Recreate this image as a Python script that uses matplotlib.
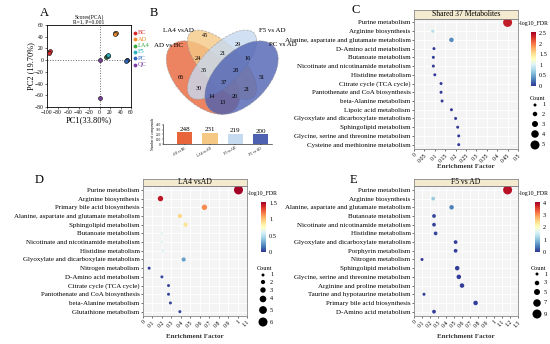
import numpy as np
import matplotlib.pyplot as plt
from matplotlib.patches import Ellipse
from matplotlib.colors import Normalize
from matplotlib.cm import ScalarMappable

plt.rcParams['font.family'] = ['Liberation Serif', 'DejaVu Serif']

W, H = 550, 344

# ---------------- data ----------------
# A: PCA scores
pca_groups = ['BC', 'AD', 'LA4', 'F5', 'PC', 'QC']
pca_colors = ['#d62a2a', '#f08c2a', '#3aa845', '#2ab4c0', '#2f66c0', '#7a3fa0']
pca_pc1 = {'BC': [-97, -95, -96], 'AD': [29, 31, 30], 'LA4': [13, 15],
           'F5': [16, 17], 'PC': [52, 53, 51], 'QC': [0, 0]}
pca_pc2 = {'BC': [14, 16, 13], 'AD': [46, 47, 45], 'LA4': [5, 7],
           'F5': [7, 8], 'PC': [0, 1, -1], 'QC': [0, -65]}

# B: Venn region counts
venn_regions = ['A', 'B', 'C', 'D', 'AB', 'BC', 'CD', 'ABC', 'BCD', 'ABCD',
                'AC', 'BD', 'ACD', 'ABD', 'AD']
venn_counts = [66, 45, 29, 51, 24, 21, 16, 35, 28, 37, 30, 21, 14, 20, 13]
set_names = ['AD vs BC', 'LA4 vs AD', 'F5 vs AD', 'PC vs AD']
set_totals = [248, 231, 219, 200]
set_colors = ['#e8643a', '#f6c886', '#c6daf0', '#4f62b2']

# C: shared 37 metabolites
c_paths = ['Purine metabolism', 'Arginine biosynthesis',
           'Alanine, aspartate and glutamate metabolism', 'D-Amino acid metabolism',
           'Butanoate metabolism', 'Nicotinate and nicotinamide metabolism',
           'Histidine metabolism', 'Citrate cycle (TCA cycle)',
           'Pantothenate and CoA biosynthesis', 'beta-Alanine metabolism',
           'Lipoic acid metabolism', 'Glyoxylate and dicarboxylate metabolism',
           'Sphingolipid metabolism', 'Glycine, serine and threonine metabolism',
           'Cysteine and methionine metabolism']
c_ef = [0.45, 0.09, 0.18, 0.096, 0.093, 0.093, 0.10, 0.13, 0.13, 0.135,
        0.18, 0.20, 0.21, 0.215, 0.215]
c_fdr = [2.4, 0.8, 0.35, 0.02, 0.02, 0.02, 0.02, 0.02, 0.02, 0.02,
         0.02, 0.02, 0.02, 0.02, 0.02]
c_count = [5, 1, 2, 1, 1, 1, 1, 1, 1, 1, 1, 1, 1, 1, 1]

# D: LA4 vs AD
d_paths = ['Purine metabolism', 'Arginine biosynthesis', 'Primary bile acid biosynthesis',
           'Alanine, aspartate and glutamate metabolism', 'Sphingolipid metabolism',
           'Butanoate metabolism', 'Nicotinate and nicotinamide metabolism',
           'Histidine metabolism', 'Glyoxylate and dicarboxylate metabolism',
           'Nitrogen metabolism', 'D-Amino acid metabolism', 'Citrate cycle (TCA cycle)',
           'Pantothenate and CoA biosynthesis', 'beta-Alanine metabolism',
           'Glutathione metabolism']
d_ef = [1.01, 0.185, 0.65, 0.39, 0.45, 0.2, 0.2, 0.21, 0.43, 0.065,
        0.2, 0.27, 0.27, 0.29, 0.39]
d_fdr = [1.55, 1.45, 1.15, 0.95, 0.9, 0.65, 0.65, 0.62, 0.28, 0.02,
         0.04, 0.04, 0.04, 0.04, 0.04]
d_count = [6, 3, 3, 2, 2, 1, 1, 1, 2, 1, 1, 1, 1, 1, 1]

# E: F5 vs AD
e_paths = ['Purine metabolism', 'Arginine biosynthesis',
           'Alanine, aspartate and glutamate metabolism', 'Butanoate metabolism',
           'Nicotinate and nicotinamide metabolism', 'Histidine metabolism',
           'Glyoxylate and dicarboxylate metabolism', 'Porphyrin metabolism',
           'Nitrogen metabolism', 'Sphingolipid metabolism',
           'Glycine, serine and threonine metabolism', 'Arginine and proline metabolism',
           'Taurine and hypotaurine metabolism', 'Primary bile acid biosynthesis',
           'D-Amino acid metabolism']
e_ef = [1.17, 0.24, 0.47, 0.25, 0.25, 0.27, 0.52, 0.52, 0.1, 0.54,
        0.56, 0.6, 0.125, 0.77, 0.25]
e_fdr = [3.9, 1.1, 0.5, 0.1, 0.1, 0.1, 0.05, 0.05, 0.03, 0.05,
         0.05, 0.05, 0.03, 0.05, 0.05]
e_count = [9, 2, 3, 2, 2, 2, 2, 2, 1, 3, 3, 3, 1, 3, 2]

# ---------------- layout helpers ----------------
fig = plt.figure(figsize=(W / 100, H / 100), dpi=100)


def add_ax(x0, y0, x1, y1, **kw):
    return fig.add_axes([x0 / W, 1 - y1 / H, (x1 - x0) / W, (y1 - y0) / H], **kw)


def ftext(x, y, s, **kw):
    fig.text(x / W, 1 - y / H, s, **kw)


for lab, (x, y) in zip('ABCDE', [(40, 13), (150, 13), (352, 10), (35, 180), (350, 180)]):
    ftext(x, y, lab, fontsize=9, va='center')

# ---------------- A: PCA ----------------
axA = add_ax(47, 25, 131, 107)
axA.axhline(0, color='#666', ls=':', lw=0.7)
axA.axvline(0, color='#666', ls=':', lw=0.7)
for g, col in zip(pca_groups, pca_colors):
    axA.scatter(pca_pc1[g], pca_pc2[g], s=8, color=col, edgecolor='#222',
                linewidth=0.5, zorder=3)
axA.set_xlim(-100, 60)
axA.set_ylim(-80, 60)
axA.set_xticks(range(-100, 61, 20))
axA.set_yticks(range(-80, 61, 20))
axA.tick_params(labelsize=4, length=1.5, width=0.4, pad=0.8)
for sp in axA.spines.values():
    sp.set_linewidth(0.6)
axA.set_xlabel('PC1(33.80%)', fontsize=6, labelpad=1)
axA.set_ylabel('PC2 (19.70%)', fontsize=6, labelpad=0)
axA.set_title('Scores(PCA)\nR=1, P=0.001', fontsize=4, pad=1, linespacing=0.9)

overlay = add_ax(0, 0, W, H, zorder=5)
overlay.set_xlim(0, W)
overlay.set_ylim(H, 0)
overlay.axis('off')

for i, (g, col) in enumerate(zip(pca_groups, pca_colors)):
    yy = 33 + i * 6.3
    overlay.scatter([135], [yy], s=3, color=col)
    overlay.text(138, yy, g, color=col, fontsize=4.6, va='center')

# ---------------- B: Venn ----------------
axV = add_ax(150, 20, 295, 118)
axV.set_xlim(150, 295)
axV.set_ylim(118, 20)
axV.axis('off')
ell_geom = [((203, 77.6), 90, 52, 45), ((222, 64.7), 90, 39, 45),
            ((222, 64.7), 90, 39, -45), ((241.5, 77.6), 90, 52, -45)]
for (c, w, h, a), col in zip(ell_geom, set_colors):
    axV.add_patch(Ellipse(c, w, h, angle=a, facecolor=col, alpha=0.8,
                          edgecolor='#999', ls='--', lw=0.5))
venn_pos = {'A': (181, 78), 'B': (205, 36), 'C': (238, 45), 'D': (262, 78),
            'AB': (198, 59), 'BC': (223, 54), 'CD': (248, 59), 'ABC': (204, 71),
            'BCD': (236, 71), 'ABCD': (224, 83), 'AC': (199, 89), 'BD': (247, 90),
            'ACD': (212, 97), 'ABD': (235, 97), 'AD': (223, 103)}
for r, n in zip(venn_regions, venn_counts):
    x, y = venn_pos[r]
    axV.text(x, y, str(n), fontsize=4.5, ha='center', va='center')
for name, (x, y) in zip(['AD vs BC', 'LA4 vsAD', 'F5 vs AD', 'PC vs AD'],
                        [(168, 46), (178, 31), (272, 31), (283, 45)]):
    axV.text(x, y, name, fontsize=5, ha='center', va='center')

axBar = add_ax(163, 124, 272, 144)
xb = np.arange(len(set_totals))
axBar.bar(xb, set_totals, width=0.6, color=set_colors)
for xi, v in zip(xb, set_totals):
    axBar.text(xi, v + 12, str(v), fontsize=5, ha='center', va='bottom')
axBar.set_xlim(-0.85, 3.45)
axBar.set_ylim(0, 420)
axBar.set_yticks([0, 100, 200, 300, 400])
axBar.set_xticks(xb)
axBar.set_xticklabels(set_names, rotation=30, ha='right', rotation_mode='anchor')
axBar.tick_params(labelsize=2.5, length=1, width=0.3, pad=0.5)
axBar.spines[['top', 'right']].set_visible(False)
for sp in axBar.spines.values():
    sp.set_linewidth(0.4)
axBar.set_ylabel('Number of compounds', fontsize=2.5, labelpad=0.5)

# ---------------- C, D, E: enrichment bubble plots ----------------
cmap = plt.get_cmap('RdYlBu_r')


def bubble(box, strip, title, paths, ef, fdr, count, xmax, xstep, vmax, cticks,
           cbar_box, cbar_title_xy, cnt_title_xy, cnt_vals, cnt_y, cnt_x, xlab_xy):
    ax = add_ax(*box)
    n = len(paths)
    ypos = np.arange(n, 0, -1)
    cmax = max(cnt_vals)
    diam = 3 + 6 * (np.array(count) - 1) / (cmax - 1)
    norm = Normalize(0, vmax)
    ax.set_facecolor('#f4f4f4')
    ax.grid(True, color='white', lw=0.6)
    ax.set_axisbelow(True)
    ax.scatter(ef, ypos, s=(diam * 0.72) ** 2, c=fdr, cmap=cmap, norm=norm,
               edgecolor='none', zorder=3)
    ax.set_yticks(ypos)
    ax.set_yticklabels(paths)
    ax.set_ylim(0.5, n + 0.45)
    ticks = np.round(np.arange(0, xmax + 1e-9, xstep), 2)
    ax.set_xticks(ticks)
    ax.set_xticklabels([f'{t:g}' for t in ticks], rotation=45, ha='right',
                       rotation_mode='anchor')
    ax.set_xlim(0, xmax)
    ax.tick_params(axis='y', labelsize=5, length=1.5, width=0.4, pad=1)
    ax.tick_params(axis='x', labelsize=4.2, length=1.5, width=0.4, pad=1)
    for sp in ax.spines.values():
        sp.set_color('#888')
        sp.set_linewidth(0.6)
    ftext(*xlab_xy, 'Enrichment Factor', fontsize=5, fontweight='bold',
          color='#333', ha='center', va='center')

    sax = add_ax(*strip)
    sax.set_facecolor('#f3ead0')
    sax.set_xticks([])
    sax.set_yticks([])
    for sp in sax.spines.values():
        sp.set_color('#888')
        sp.set_linewidth(0.6)
    sax.text(0.5, 0.5, title, fontsize=5.5, ha='center', va='center',
             transform=sax.transAxes)

    cax = add_ax(*cbar_box)
    cb = fig.colorbar(ScalarMappable(norm=norm, cmap=cmap), cax=cax, ticks=cticks)
    cb.outline.set_visible(False)
    cb.ax.set_yticklabels([f'{t:g}' for t in cticks])
    cax.tick_params(labelsize=4.5, length=1.2, width=0.4, pad=1, color='white')
    ftext(*cbar_title_xy, '-log10_FDR', fontsize=4.2, va='center')

    ftext(*cnt_title_xy, 'Count', fontsize=4.5, va='center')
    for v, yy in zip(cnt_vals, cnt_y):
        d = 3 + 6 * (v - 1) / (cmax - 1)
        overlay.scatter([cnt_x], [yy], s=(d * 0.72) ** 2, color='black', edgecolor='none')
        overlay.text(cnt_x + 7, yy, str(v), fontsize=4.5, va='center')


bubble((414, 18.5, 518, 149), (414, 10, 518, 18.5), 'Shared 37 Metabolites',
       c_paths, c_ef, c_fdr, c_count, 0.5, 0.05, 2.55, [0, 0.5, 1, 1.5, 2, 2.5],
       (531, 32, 536, 86), (519, 24), (530, 98), [1, 2, 3, 4, 5],
       [105, 114, 124, 134, 145], 535, (466, 166))

bubble((143, 186, 247, 316), (143, 179, 247, 186), 'LA4 vsAD',
       d_paths, d_ef, d_fdr, d_count, 1.1, 0.1, 1.53, [0, 0.5, 1, 1.5],
       (261, 202, 266, 252), (248, 194), (257, 268), [1, 2, 3, 4, 5, 6],
       [275, 282, 290, 299, 310, 322], 263, (195, 336))

bubble((414, 186, 518, 316), (414, 179, 518, 186), 'F5 vs AD',
       e_paths, e_ef, e_fdr, e_count, 1.3, 0.1, 4.05, [0, 1, 2, 3, 4],
       (535, 202, 540, 252), (519, 194), (531, 268), [1, 3, 5, 7, 9],
       [274, 283, 292, 303, 314], 537, (466, 336))

fig.savefig('out.png', dpi=100)
